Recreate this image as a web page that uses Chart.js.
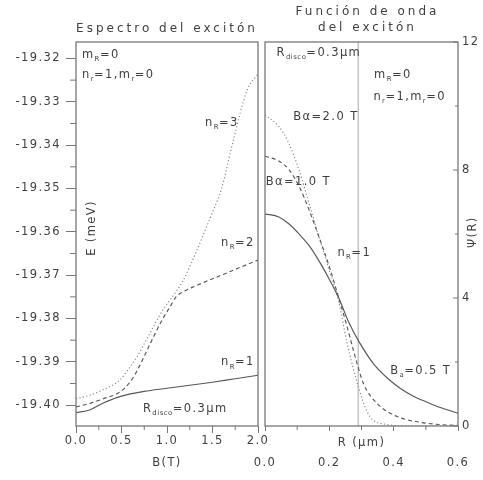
<!DOCTYPE html>
<html>
<head>
<meta charset="utf-8">
<script src="https://cdn.jsdelivr.net/npm/chart.js@4.4.1/dist/chart.umd.min.js"></script>
<style>
  html, body { margin: 0; padding: 0; background: #fff; }
  #wrap { position: relative; width: 483px; height: 480px; overflow: hidden; }
  canvas { position: absolute; top: 0; }
  #cLeft { left: 0; width: 290px; height: 480px; }
  #cRight { left: 235px; width: 248px; height: 480px; }
</style>
</head>
<body>
<div id="wrap">
  <canvas id="cLeft" width="290" height="480"></canvas>
  <canvas id="cRight" width="248" height="480"></canvas>
</div>
<script>
/* ---------- left panel: exciton spectrum E(B) ---------- */
const fieldN1  = [0, 0.15, 0.3, 0.5, 0.75, 1.0, 1.25, 1.5, 1.75, 2.0];
const energyN1 = [-19.4017, -19.4011, -19.3995, -19.3979, -19.3968, -19.3961, -19.3954, -19.3947, -19.3939, -19.3931];

const fieldN2  = [0, 0.15, 0.3, 0.48, 0.6, 0.67, 0.75, 0.85, 0.95, 1.03, 1.1, 1.18, 1.3, 1.4, 1.55, 1.69, 1.85, 2.0];
const energyN2 = [-19.4004, -19.3996, -19.3985, -19.3970, -19.3945, -19.3921, -19.3887, -19.3843, -19.3802, -19.3774,
                  -19.3750, -19.3738, -19.3726, -19.3717, -19.3704, -19.3692, -19.3678, -19.3665];

const fieldN3  = [0, 0.15, 0.29, 0.48, 0.6, 0.67, 0.75, 0.85, 0.95, 1.03, 1.1, 1.18, 1.33, 1.42, 1.5, 1.6, 1.73, 1.88, 1.99];
const energyN3 = [-19.3985, -19.3977, -19.3965, -19.3942, -19.3910, -19.3888, -19.3858, -19.3819, -19.3782, -19.3758,
                  -19.3738, -19.3711, -19.3642, -19.3596, -19.3555, -19.3500, -19.3388, -19.3273, -19.3238];

const leftXTicks = [0, 0.5, 1.0, 1.5, 2.0];
const leftXMinor = [0.25, 0.75, 1.25, 1.75];
const leftYTicks = [-19.40, -19.39, -19.38, -19.37, -19.36, -19.35, -19.34, -19.33, -19.32];
const leftYMinor = [-19.395, -19.385, -19.375, -19.365, -19.355, -19.345, -19.335, -19.325];

/* ---------- right panel: wave function psi(R) ---------- */
const radiusB05 = [0, 0.043, 0.074, 0.105, 0.136, 0.166, 0.198, 0.229, 0.26, 0.293, 0.337, 0.38, 0.42, 0.46, 0.5, 0.55, 0.6];
const psiB05    = [6.63, 6.53, 6.32, 6.01, 5.65, 5.19, 4.62, 4.01, 3.25, 2.62, 1.95, 1.50, 1.18, 0.94, 0.76, 0.56, 0.40];

const radiusB10 = [0, 0.043, 0.074, 0.105, 0.136, 0.166, 0.198, 0.229, 0.254, 0.275, 0.306, 0.347, 0.41, 0.48, 0.55, 0.6];
const psiB10    = [8.43, 8.28, 8.02, 7.51, 6.78, 5.96, 5.04, 4.01, 3.15, 2.36, 1.33, 0.72, 0.30, 0.12, 0.04, 0.02];

const radiusB20 = [0, 0.043, 0.074, 0.105, 0.136, 0.166, 0.198, 0.229, 0.254, 0.293, 0.326, 0.378, 0.45, 0.6];
const psiB20    = [9.72, 9.36, 8.84, 8.02, 6.99, 5.96, 4.93, 3.90, 2.65, 1.13, 0.30, 0.05, 0.0, 0.0];

const discoRadius = 0.29;   // edge of the disk, grey vertical line

const rightXTicks = [0, 0.2, 0.4, 0.6];
const rightXMinor = [0.1, 0.3, 0.5];
const rightYTicks = [0, 4, 8, 12];
const rightYMinor = [2, 6, 10];

/* ---------- look ---------- */
const INK = '#3f3f3f';
const LINE = '#575757';
const LIGHT = '#888';
const FRAME = '#777';
const FONT = '"DejaVu Sans", Verdana, sans-serif';
const SPACING = '1.4px';

Chart.defaults.font.family = FONT;
Chart.defaults.font.size = 11.5;
Chart.defaults.color = INK;

function curve(xs, ys, dash, color) {
    return {
        data: xs.map((x, i) => ({ x: x, y: ys[i] })),
        borderColor: color || LINE,
        borderWidth: 1.15,
        borderDash: dash,
        pointRadius: 0,
        cubicInterpolationMode: 'monotone',
        fill: false
    };
}

// "n_{R}=3" -> segments with subscripts
function parseRich(str) {
    const out = [];
    const re = /_\{([^}]*)\}/g;
    let last = 0, m;
    while ((m = re.exec(str))) {
        if (m.index > last) out.push({ t: str.slice(last, m.index) });
        out.push({ t: m[1], sub: true });
        last = re.lastIndex;
    }
    if (last < str.length) out.push({ t: str.slice(last) });
    return out;
}

function drawRich(ctx, str, x, y, size, align, spacing) {
    const segs = parseRich(str);
    const sp = spacing || SPACING;
    let w = 0;
    segs.forEach(s => {
        ctx.font = (s.sub ? size * 0.6 : size) + 'px ' + FONT;
        ctx.letterSpacing = s.sub ? '0.5px' : sp;
        s.w = ctx.measureText(s.t).width;
        w += s.w;
    });
    let cx = align === 'center' ? x - w / 2 : x;
    segs.forEach(s => {
        ctx.font = (s.sub ? size * 0.6 : size) + 'px ' + FONT;
        ctx.letterSpacing = s.sub ? '0.5px' : sp;
        ctx.fillText(s.t, cx, s.sub ? y + size * 0.4 : y);
        cx += s.w;
    });
}

const decor = {
    id: 'decor',
    beforeLayout(chart) { chart.ctx.letterSpacing = SPACING; },
    beforeDraw(chart) { chart.ctx.letterSpacing = SPACING; },
    afterDraw(chart) {
        const o = chart.options.plugins.decor;
        const { ctx, chartArea: a, scales } = chart;
        ctx.save();
        // frame
        ctx.strokeStyle = FRAME;
        ctx.lineWidth = 1.3;
        ctx.strokeRect(a.left, a.top, a.right - a.left, a.bottom - a.top);
        // minor ticks
        ctx.lineWidth = 1;
        ctx.beginPath();
        (o.minorX || []).forEach(v => {
            const px = scales.x.getPixelForValue(v);
            ctx.moveTo(px, a.bottom);
            ctx.lineTo(px, a.bottom + o.minorXLen);
        });
        (o.minorYOut || []).forEach(v => {
            const py = scales.y.getPixelForValue(v);
            ctx.moveTo(a.left, py);
            ctx.lineTo(a.left - o.minorYLen, py);
        });
        (o.inwardRight || []).forEach(t => {
            const py = scales.y.getPixelForValue(t.v);
            ctx.moveTo(a.right, py);
            ctx.lineTo(a.right - t.len, py);
        });
        ctx.stroke();
        // notes
        ctx.fillStyle = INK;
        ctx.textBaseline = 'middle';
        ctx.textAlign = 'left';
        (o.notes || []).forEach(n => {
            const px = scales.x.getPixelForValue(n.x);
            const py = scales.y.getPixelForValue(n.y);
            if (n.rotate) {
                ctx.save();
                ctx.translate(px, py);
                ctx.rotate(-Math.PI / 2);
                drawRich(ctx, n.text, 0, 0, 11.5, 'center');
                ctx.restore();
            } else {
                drawRich(ctx, n.text, px, py, 11.5, n.align || 'left');
            }
        });
        (o.titles || []).forEach(t => {
            drawRich(ctx, t.text, (a.left + a.right) / 2 + t.dx, t.y, 12, 'center', '3px');
        });
        ctx.restore();
    }
};

function fixedX(h) {
    return s => { s.height = h; s.paddingLeft = 0; s.paddingRight = 0; };
}
function fixedY(w) {
    return s => { s.width = w; s.paddingTop = 0; s.paddingBottom = 0; };
}
function useTicks(arr) {
    return s => { s.ticks = arr.map(v => ({ value: v })); };
}

/* ---------- left chart ---------- */
new Chart(document.getElementById('cLeft'), {
    type: 'line',
    data: {
        datasets: [
            curve(fieldN1, energyN1, []),
            curve(fieldN2, energyN2, [4, 3]),
            curve(fieldN3, energyN3, [1.2, 2.3], LIGHT)
        ]
    },
    options: {
        responsive: false,
        animation: false,
        events: [],
        layout: { padding: { left: 0, right: 32, top: 42, bottom: 0 } },
        plugins: {
            legend: { display: false },
            tooltip: { enabled: false },
            decor: {
                minorX: leftXMinor, minorXLen: 4,
                minorYOut: leftYMinor, minorYLen: 6,
                notes: [
                    { text: 'm_{R}=0', x: 0.066, y: -19.3192 },
                    { text: 'n_{r}=1,m_{r}=0', x: 0.066, y: -19.3238 },
                    { text: 'n_{R}=3', x: 1.418, y: -19.3349 },
                    { text: 'n_{R}=2', x: 1.593, y: -19.3626 },
                    { text: 'n_{R}=1', x: 1.593, y: -19.3901 },
                    { text: 'R_{disco}=0.3µm', x: 0.736, y: -19.4009 },
                    { text: 'E (meV)', x: 0.176, y: -19.3591, rotate: true }
                ],
                titles: [{ text: 'Espectro del excitón', dx: 0, y: 29 }]
            }
        },
        scales: {
            x: {
                type: 'linear', min: 0, max: 2,
                afterBuildTicks: useTicks(leftXTicks),
                afterFit: fixedX(54),
                border: { display: false },
                grid: { drawOnChartArea: false, tickLength: 7, color: FRAME },
                ticks: { padding: 1, autoSkip: false, maxRotation: 0, color: INK, callback: v => v.toFixed(1) },
                title: { display: true, text: 'B(T)', color: INK, padding: { top: 0, bottom: 10 } }
            },
            y: {
                type: 'linear', min: -19.4048, max: -19.3162,
                afterBuildTicks: useTicks(leftYTicks),
                afterFit: fixedY(76),
                border: { display: false },
                grid: { drawOnChartArea: false, tickLength: 10, color: FRAME },
                ticks: { padding: 5, autoSkip: false, color: INK, callback: v => v.toFixed(2) }
            }
        }
    },
    plugins: [decor]
});

/* ---------- right chart ---------- */
const discoLine = {
    data: [{ x: discoRadius, y: 0 }, { x: discoRadius, y: 12 }],
    borderColor: '#c4c4c4', borderWidth: 1.5, pointRadius: 0, fill: false
};

new Chart(document.getElementById('cRight'), {
    type: 'line',
    data: {
        datasets: [
            curve(radiusB05, psiB05, []),
            curve(radiusB10, psiB10, [4, 3]),
            curve(radiusB20, psiB20, [1.2, 2.3], LIGHT),
            discoLine
        ]
    },
    options: {
        responsive: false,
        animation: false,
        events: [],
        layout: { padding: { left: 30, right: 0, top: 42, bottom: 0 } },
        plugins: {
            legend: { display: false },
            tooltip: { enabled: false },
            decor: {
                minorX: rightXMinor, minorXLen: 4,
                inwardRight: rightYTicks.map(v => ({ v: v, len: 5 }))
                    .concat(rightYMinor.map(v => ({ v: v, len: 3 }))),
                notes: [
                    { text: 'R_{disco}=0.3µm', x: 0.036, y: 11.66 },
                    { text: 'm_{R}=0', x: 0.339, y: 10.97 },
                    { text: 'n_{r}=1,m_{r}=0', x: 0.337, y: 10.28 },
                    { text: 'Bα=2.0 T', x: 0.088, y: 9.66 },
                    { text: 'Bα=1.0 T', x: 0.002, y: 7.63 },
                    { text: 'n_{R}=1', x: 0.225, y: 5.41 },
                    { text: 'B_{a}=0.5 T', x: 0.389, y: 1.72 },
                    { text: 'Ψ(R)', x: 0.647, y: 6.06, rotate: true }
                ],
                titles: [
                    { text: 'Función de onda', dx: 6, y: 12 },
                    { text: 'del excitón', dx: 6, y: 28 }
                ]
            }
        },
        scales: {
            x: {
                type: 'linear', min: 0, max: 0.6,
                afterBuildTicks: useTicks(rightXTicks),
                afterFit: fixedX(54),
                border: { display: false },
                grid: { drawOnChartArea: false, tickLength: 5, color: FRAME },
                ticks: { padding: 25, autoSkip: false, maxRotation: 0, color: INK, callback: v => v.toFixed(1) },
                title: { display: true, text: 'R (µm)', color: INK, padding: { top: 0, bottom: 30 } }
            },
            y: {
                type: 'linear', position: 'right', min: 0, max: 12,
                afterBuildTicks: useTicks(rightYTicks),
                afterFit: fixedY(25),
                border: { display: false },
                grid: { drawOnChartArea: false, drawTicks: false },
                ticks: { padding: 4, autoSkip: false, color: INK, callback: v => String(v) }
            }
        }
    },
    plugins: [decor]
});
</script>
</body>
</html>
